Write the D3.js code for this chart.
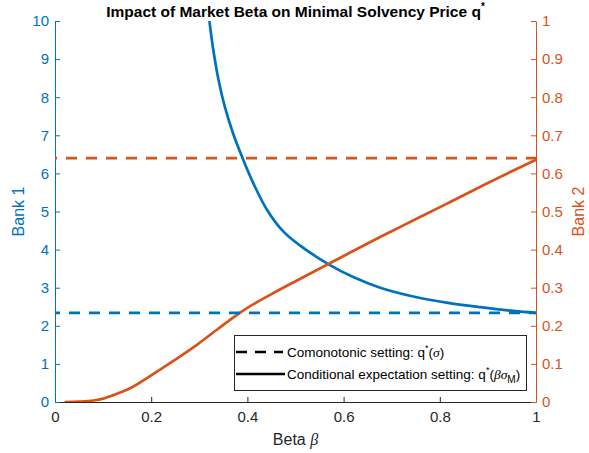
<!DOCTYPE html>
<html>
<head>
<meta charset="utf-8">
<script src="https://cdn.jsdelivr.net/npm/d3@7"></script>
<style>
  body { margin: 0; background: #fff; }
  text { font-family: "Liberation Sans", Arial, sans-serif; }
</style>
</head>
<body>
<div id="grafico"></div>
<script>
// Datos
var betaBanco1 = [0.321, 0.329, 0.340, 0.353, 0.371, 0.390, 0.412, 0.440, 0.475, 0.509, 0.568, 0.620, 0.676, 0.745, 0.814, 0.884, 0.953, 1.0];
var qBanco1    = [10.0, 9.25, 8.45, 7.75, 7.02, 6.40, 5.75, 5.06, 4.47, 4.11, 3.62, 3.28, 3.00, 2.77, 2.61, 2.49, 2.39, 2.34];

var betaBanco2 = [0.02, 0.05, 0.08, 0.10, 0.121, 0.156, 0.20, 0.246, 0.295, 0.34, 0.374, 0.40, 0.45, 0.50, 0.568, 0.676, 0.717, 0.814, 0.90, 1.0];
var qBanco2    = [0.0, 0.001, 0.004, 0.009, 0.018, 0.036, 0.070, 0.108, 0.150, 0.193, 0.225, 0.247, 0.283, 0.317, 0.362, 0.433, 0.459, 0.520, 0.575, 0.636];

var qComonotonicoBanco1 = 2.34;
var qComonotonicoBanco2 = 0.64;

var ticksX  = [0, 0.2, 0.4, 0.6, 0.8, 1];
var ticksY1 = [0, 1, 2, 3, 4, 5, 6, 7, 8, 9, 10];
var ticksY2 = [0, 0.1, 0.2, 0.3, 0.4, 0.5, 0.6, 0.7, 0.8, 0.9, 1];

var azul = "#0072BD", naranja = "#D95319", gris = "#262626";

var width = 589, height = 453;
var margin = {top: 21, right: 53, bottom: 51, left: 55};

var svg = d3.select("#grafico").append("svg")
    .attr("width", width)
    .attr("height", height);

var x = d3.scaleLinear().domain([0, 1]).range([margin.left, width - margin.right]);
var y1 = d3.scaleLinear().domain([0, 10]).range([height - margin.bottom, margin.top]);
var y2 = d3.scaleLinear().domain([0, 1]).range([height - margin.bottom, margin.top]);

svg.append("clipPath").attr("id", "recorte")
    .append("rect")
    .attr("x", x(0)).attr("y", y1(10))
    .attr("width", x(1) - x(0)).attr("height", y1(0) - y1(10));

/************ Ejes ************/
var ejeX = svg.append("g")
    .attr("transform", "translate(0," + y1(0) + ")")
    .call(d3.axisBottom(x).tickValues(ticksX).tickFormat(d3.format("")).tickSizeInner(-5).tickSizeOuter(0).tickPadding(9));
ejeX.selectAll("line, path").attr("stroke", gris);
ejeX.selectAll("text").attr("fill", gris).style("font-size", "15px").style("font-family", "Liberation Sans, Arial");

var ejeY1 = svg.append("g")
    .attr("transform", "translate(" + x(0) + ",0)")
    .call(d3.axisLeft(y1).tickValues(ticksY1).tickSizeInner(-5).tickSizeOuter(0).tickPadding(6));
ejeY1.selectAll("line, path").attr("stroke", azul);
ejeY1.selectAll("text").attr("fill", azul).style("font-size", "15px").style("font-family", "Liberation Sans, Arial");

var ejeY2 = svg.append("g")
    .attr("transform", "translate(" + x(1) + ",0)")
    .call(d3.axisRight(y2).tickValues(ticksY2).tickFormat(d3.format("")).tickSizeInner(-5).tickSizeOuter(0).tickPadding(6));
ejeY2.selectAll("line, path").attr("stroke", naranja);
ejeY2.selectAll("text").attr("fill", naranja).style("font-size", "15px").style("font-family", "Liberation Sans, Arial");

svg.selectAll(".domain").attr("stroke-width", 1);

/************ Lineas ************/
var capa = svg.append("g").attr("clip-path", "url(#recorte)");

var linea1 = d3.line().x(function(d) { return x(d[0]); }).y(function(d) { return y1(d[1]); }).curve(d3.curveCatmullRom.alpha(0.5));
var linea2 = d3.line().x(function(d) { return x(d[0]); }).y(function(d) { return y2(d[1]); }).curve(d3.curveMonotoneX);

capa.append("path")
    .attr("d", linea1(d3.zip(betaBanco1, qBanco1)))
    .attr("fill", "none").attr("stroke", azul).attr("stroke-width", 2.7);

capa.append("path")
    .attr("d", linea2(d3.zip(betaBanco2, qBanco2)))
    .attr("fill", "none").attr("stroke", naranja).attr("stroke-width", 2.7);

capa.append("path")
    .attr("d", linea1([[0, qComonotonicoBanco1], [1, qComonotonicoBanco1]]))
    .attr("fill", "none").attr("stroke", azul).attr("stroke-width", 2.7)
    .attr("stroke-dasharray", "11,9").attr("stroke-dashoffset", 6);

capa.append("path")
    .attr("d", linea2([[0, qComonotonicoBanco2], [1, qComonotonicoBanco2]]))
    .attr("fill", "none").attr("stroke", naranja).attr("stroke-width", 2.7)
    .attr("stroke-dasharray", "11,9").attr("stroke-dashoffset", 9);

/************ Textos ************/
var titulo = svg.append("text")
    .attr("x", (x(0) + x(1)) / 2).attr("y", 17)
    .attr("text-anchor", "middle")
    .style("font-size", "15.5px").style("font-weight", "bold").attr("fill", "#000");
titulo.append("tspan").text("Impact of Market Beta on Minimal Solvency Price q");
titulo.append("tspan").attr("dy", -7).style("font-size", "10px").text("*");

var etiquetaX = svg.append("text")
    .attr("x", (x(0) + x(1)) / 2).attr("y", 445)
    .attr("text-anchor", "middle").attr("fill", gris)
    .style("font-size", "16px");
etiquetaX.append("tspan").text("Beta ");
etiquetaX.append("tspan").style("font-family", "Liberation Serif, serif").style("font-style", "italic").text("β");

svg.append("text")
    .attr("transform", "translate(24," + y1(5) + ") rotate(-90)")
    .attr("text-anchor", "middle").attr("fill", azul)
    .style("font-size", "16px").text("Bank 1");

svg.append("text")
    .attr("transform", "translate(584," + y2(0.5) + ") rotate(-90)")
    .attr("text-anchor", "middle").attr("fill", naranja)
    .style("font-size", "16px").text("Bank 2");

/************ Leyenda ************/
var leyenda = svg.append("g");
leyenda.append("rect")
    .attr("x", 234.5).attr("y", 335.5).attr("width", 292).attr("height", 55)
    .attr("fill", "#fff").attr("stroke", gris).attr("stroke-width", 1);

leyenda.append("line")
    .attr("x1", 236).attr("x2", 283).attr("y1", 352).attr("y2", 352)
    .attr("stroke", "#000").attr("stroke-width", 2.7).attr("stroke-dasharray", "11,8");
leyenda.append("line")
    .attr("x1", 236).attr("x2", 285).attr("y1", 374).attr("y2", 374)
    .attr("stroke", "#000").attr("stroke-width", 2.7);

function textoLeyenda(yPos, partes) {
    var t = leyenda.append("text").attr("x", 287).attr("y", yPos)
        .style("font-size", "13.5px").attr("fill", "#000");
    partes.forEach(function(p) {
        var s = t.append("tspan").text(p.t);
        if (p.it) s.style("font-family", "Liberation Serif, serif").style("font-style", "italic");
        if (p.sup) s.attr("dy", p.dy).style("font-size", "9px");
        if (p.sub) s.attr("dy", p.dy).style("font-size", "10px");
        if (p.back) s.attr("dy", p.dy);
    });
}
textoLeyenda(357, [{t: "Comonotonic setting: q"}, {t: "*", sup: true, dy: -6}, {t: "(", back: true, dy: 6},
    {t: "σ", it: true}, {t: ")"}]);
textoLeyenda(379, [{t: "Conditional expectation setting: q"}, {t: "*", sup: true, dy: -6}, {t: "(", back: true, dy: 6},
    {t: "βσ", it: true}, {t: "M", sub: true, dy: 4}, {t: ")", back: true, dy: -4}]);
</script>
</body>
</html>
